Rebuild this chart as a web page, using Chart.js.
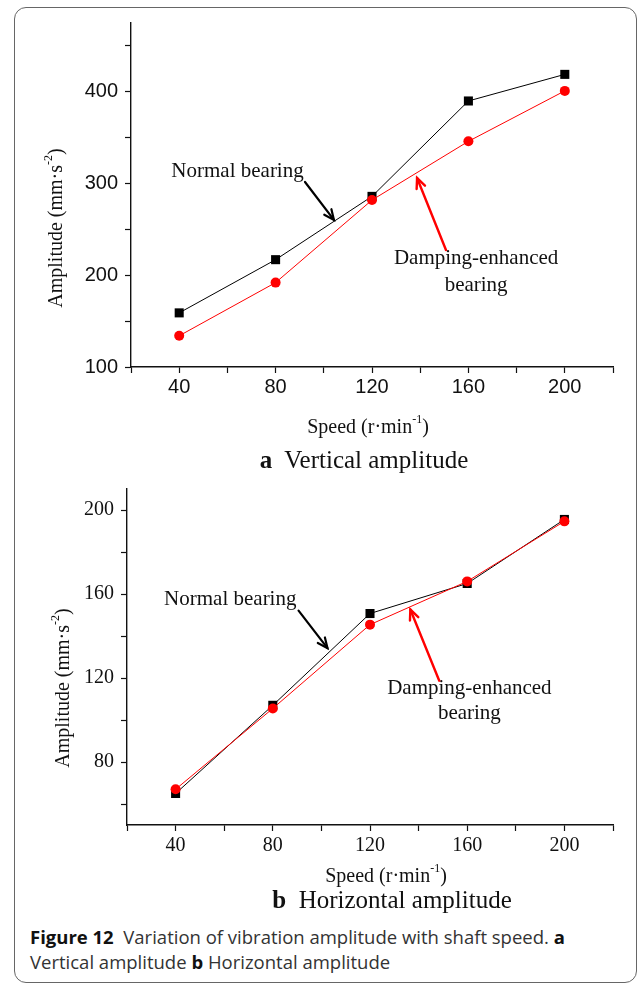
<!DOCTYPE html>
<html><head><meta charset="utf-8">
<script src="https://cdn.jsdelivr.net/npm/chart.js@4.4.1/dist/chart.umd.min.js"></script>
<style>
html,body{margin:0;padding:0;background:#fff;width:637px;height:984px;overflow:hidden;}
#frame{position:absolute;left:14px;top:7px;width:623px;height:976px;border:1.5px solid #666;border-radius:12px;box-sizing:border-box;}
canvas{position:absolute;left:0;}
#ca{top:0;}
#cb{top:470px;}
.sub{position:absolute;font-family:"Liberation Serif","Times New Roman",serif;font-size:25px;color:#111;white-space:nowrap;transform:translate(-50%,-50%);}
#cap{position:absolute;left:30px;top:924px;font-family:"Open Sans",Lato,sans-serif;font-size:18.5px;line-height:25px;color:#333;white-space:nowrap;}
#cap b{color:#111;}
</style></head>
<body>
<div id="frame"></div>
<canvas id="ca" width="637" height="440"></canvas>
<canvas id="cb" width="637" height="420"></canvas>
<div class="sub" style="left:364px;top:460px;"><b>a</b>&nbsp; Vertical amplitude</div>
<div class="sub" style="left:392px;top:900px;"><b>b</b>&nbsp; Horizontal amplitude</div>
<div id="cap"><b>Figure 12</b>&nbsp; Variation of vibration amplitude with shaft speed. <b>a</b><br>Vertical amplitude <b>b</b> Horizontal amplitude</div>
<script>
// ---- data ----
const speeds = [40, 80, 120, 160, 200];
const seriesNames = ["Normal bearing", "Damping-enhanced bearing"];
const vertNormal = [159, 217, 286, 390, 419];
const vertDamping = [134, 192, 282, 346, 401];
const horizNormal = [65, 107, 150.7, 165, 195.5];
const horizDamping = [67, 105.5, 145.4, 166, 194.6];
const xTicks = [20, 40, 60, 80, 100, 120, 140, 160, 180, 200, 220];
const xTickLabels = [40, 80, 120, 160, 200];
const vertTicks = [100, 150, 200, 250, 300, 350, 400, 450];
const vertTickLabels = [100, 200, 300, 400];
const horizTicks = [60, 80, 100, 120, 140, 160, 180, 200];
const horizTickLabels = [80, 120, 160, 200];

const SERIF = '"Liberation Serif","Times New Roman",serif';
const SANS = '"Liberation Sans",Arial,sans-serif';

function drawSup(ctx, parts, cx, cy, rot, size) {
  ctx.save();
  ctx.translate(cx, cy);
  if (rot) ctx.rotate(rot);
  const supSize = Math.round(size * 0.62);
  let total = 0;
  parts.forEach(p => { ctx.font = (p.sup ? supSize : size) + 'px ' + SERIF; total += ctx.measureText(p.t).width; });
  let x = -total / 2;
  ctx.fillStyle = '#111';
  ctx.textBaseline = 'alphabetic';
  ctx.textAlign = 'left';
  parts.forEach(p => {
    ctx.font = (p.sup ? supSize : size) + 'px ' + SERIF;
    ctx.fillText(p.t, x, p.sup ? size * 0.35 - size * 0.5 : size * 0.35);
    x += ctx.measureText(p.t).width;
  });
  ctx.restore();
}

function arrow(ctx, x1, y1, x2, y2, color, w) {
  ctx.save();
  ctx.strokeStyle = color; ctx.lineWidth = w; ctx.lineCap = 'round';
  ctx.beginPath(); ctx.moveTo(x1, y1); ctx.lineTo(x2, y2); ctx.stroke();
  const a = Math.atan2(y2 - y1, x2 - x1), L = 11, s = 0.42;
  ctx.beginPath();
  ctx.moveTo(x2 - L * Math.cos(a - s), y2 - L * Math.sin(a - s));
  ctx.lineTo(x2, y2);
  ctx.lineTo(x2 - L * Math.cos(a + s), y2 - L * Math.sin(a + s));
  ctx.stroke();
  ctx.restore();
}

function makeChart(id, normal, damping, yMin, yMax, yTicks, yLabels, tickFont, geom, notes) {
  const annot = {
    id: 'annot',
    afterDraw(chart) {
      const ctx = chart.ctx, xs = chart.scales.x, ys = chart.scales.y;
      const P = (x, y) => [xs.getPixelForValue(x), ys.getPixelForValue(y)];
      drawSup(ctx, [{t: 'Amplitude (mm·s'}, {t: '-2', sup: true}, {t: ')'}], geom.yt[0], geom.yt[1], -Math.PI / 2, 20);
      drawSup(ctx, [{t: 'Speed (r·min'}, {t: '-1', sup: true}, {t: ')'}], geom.xt[0], geom.xt[1], 0, 20);
      ctx.save();
      ctx.font = '21px ' + SERIF; ctx.fillStyle = '#111'; ctx.textAlign = 'center'; ctx.textBaseline = 'middle';
      let p = P(notes.n[0], notes.n[1]); ctx.fillText(seriesNames[0], p[0], p[1]);
      p = P(notes.d1[0], notes.d1[1]); ctx.fillText('Damping-enhanced', p[0], p[1]);
      p = P(notes.d2[0], notes.d2[1]); ctx.fillText('bearing', p[0], p[1]);
      ctx.restore();
      let a = P(notes.na[0], notes.na[1]), b = P(notes.na[2], notes.na[3]);
      arrow(ctx, a[0], a[1], b[0], b[1], '#000', 2.2);
      a = P(notes.da[0], notes.da[1]); b = P(notes.da[2], notes.da[3]);
      arrow(ctx, a[0], a[1], b[0], b[1], '#ff0000', 2.4);
    }
  };
  const canvas = document.getElementById(id);
  return new Chart(canvas, {
    type: 'line',
    data: {
      datasets: [
        { label: seriesNames[0], data: speeds.map((s, i) => ({x: s, y: normal[i]})),
          borderColor: '#000', backgroundColor: '#000', borderWidth: 1,
          pointStyle: 'rect', pointRadius: 6.4, pointBorderWidth: 0, order: 1 },
        { label: seriesNames[1], data: speeds.map((s, i) => ({x: s, y: damping[i]})),
          borderColor: '#ff0000', backgroundColor: '#ff0000', borderWidth: 1,
          pointStyle: 'circle', pointRadius: 5, pointBorderWidth: 0, order: 0 }
      ]
    },
    options: {
      responsive: false, animation: false, events: [],
      layout: { padding: { left: 0, right: 24, top: geom.top, bottom: 0 } },
      plugins: { legend: { display: false }, tooltip: { enabled: false } },
      scales: {
        x: {
          type: 'linear', min: 20, max: 220,
          afterFit: s => { s.height = geom.xh; },
          afterBuildTicks: s => { s.ticks = xTicks.map(v => ({value: v})); },
          grid: { drawOnChartArea: false, drawTicks: true, tickLength: 6, tickColor: '#111', tickWidth: 1.2 },
          border: { display: true, color: '#111', width: 1.4 },
          ticks: { color: '#111', padding: geom.xpad, maxRotation: 0, autoSkip: false,
                   font: { family: tickFont, size: 20 },
                   callback: v => xTickLabels.includes(v) ? String(v) : '' }
        },
        y: {
          type: 'linear', min: yMin, max: yMax,
          afterFit: s => { s.width = geom.yw; },
          afterBuildTicks: s => { s.ticks = yTicks.map(v => ({value: v})); },
          grid: { drawOnChartArea: false, drawTicks: true, tickLength: 6, tickColor: '#111', tickWidth: 1.2 },
          border: { display: true, color: '#111', width: 1.4 },
          ticks: { color: '#111', padding: 7, autoSkip: false,
                   font: { family: tickFont, size: 20 },
                   callback: v => yLabels.includes(v) ? String(v) : '' }
        }
      }
    },
    plugins: [annot]
  });
}

makeChart('ca', vertNormal, vertDamping, 100, 475, vertTicks, vertTickLabels, SANS,
  { top: 23, xh: 73, yw: 131, xpad: 2, yt: [55, 228], xt: [368, 426] },
  { n: [64.2, 313], d1: [163.2, 218.8], d2: [163.2, 189.4],
    na: [92.2, 301.7, 104.2, 260.3], da: [150.7, 227.5, 138.7, 306] });

makeChart('cb', horizNormal, horizDamping, 50, 210, horizTicks, horizTickLabels, SERIF,
  { top: 15, xh: 65, yw: 127, xpad: 3, yt: [62, 218], xt: [386, 405] },
  { n: [62.5, 157.3], d1: [160.9, 114.9], d2: [160.9, 103.2],
    na: [90.6, 152.1, 102.5, 134.2], da: [148.5, 118.7, 136.6, 152.6] });
</script>
</body></html>
